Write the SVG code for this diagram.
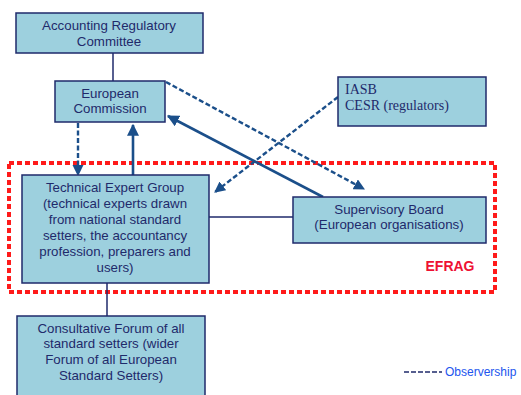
<svg xmlns="http://www.w3.org/2000/svg" width="521" height="395" viewBox="0 0 521 395">
<defs>
<style>
.box{fill:#9dd0de;stroke:#1f2a6b;stroke-width:1.5}
.t{font-family:"Liberation Sans",Arial,sans-serif;font-size:13.3px;fill:#1f2a6b;text-anchor:middle}
.s{font-family:"Liberation Serif","Times New Roman",serif;font-size:14px;fill:#1f2a6b}
.ln{stroke:#1f2a6b;stroke-width:1.5;fill:none}
.ar{stroke:#1b4f8a;stroke-width:2.6;fill:none}
.da{stroke:#1b4f8a;stroke-width:2.4;fill:none;stroke-dasharray:5 2.5}
</style>
<marker id="ah" viewBox="0 0 10 10" refX="9" refY="5" markerWidth="4.6" markerHeight="4.6" orient="auto" markerUnits="strokeWidth">
<path d="M0,0 L10,5 L0,10 z" fill="#1b4f8a"/>
</marker>
</defs>
<rect width="521" height="395" fill="#ffffff"/>
<rect x="9" y="163" width="486" height="129" fill="none" stroke="#ff1a1a" stroke-width="4" stroke-dasharray="5 3"/>
<text x="450" y="271" font-family="Liberation Sans,Arial,sans-serif" font-size="14" font-weight="bold" fill="#ee1133" text-anchor="middle">EFRAG</text>
<g id="connectors">
<line class="ln" x1="113" y1="53" x2="113" y2="81"/>
<line class="ln" x1="209" y1="217" x2="293" y2="217"/>
<line class="ln" x1="107" y1="283" x2="107" y2="316"/>
<line class="da" x1="78" y1="123" x2="78" y2="175" marker-end="url(#ah)"/>
<line class="ar" x1="133" y1="175" x2="133" y2="125" marker-end="url(#ah)"/>
<line class="ar" x1="323" y1="197" x2="168" y2="116" marker-end="url(#ah)"/>
<line class="da" x1="166" y1="82" x2="364" y2="189" marker-end="url(#ah)"/>
<line class="da" x1="338" y1="97" x2="215" y2="192" marker-end="url(#ah)"/>
</g>
<g id="arc">
<rect class="box" x="16" y="13" width="187" height="40"/>
<text class="t" x="109" y="30">Accounting Regulatory</text>
<text class="t" x="109" y="46">Committee</text>
</g>
<g id="ec">
<rect class="box" x="55" y="81" width="110" height="41"/>
<text class="t" x="110" y="98">European</text>
<text class="t" x="110" y="113">Commission</text>
</g>
<g id="iasb">
<rect class="box" x="338" y="77" width="148" height="49"/>
<text class="s" x="345" y="94">IASB</text>
<text class="s" x="345" y="110">CESR (regulators)</text>
</g>
<g id="teg">
<rect class="box" x="22" y="175" width="187" height="108"/>
<text class="t" x="115" y="192">Technical Expert Group</text>
<text class="t" x="115" y="208">(technical experts drawn</text>
<text class="t" x="115" y="224">from national standard</text>
<text class="t" x="115" y="240">setters, the accountancy</text>
<text class="t" x="115" y="256">profession, preparers and</text>
<text class="t" x="115" y="272">users)</text>
</g>
<g id="sb">
<rect class="box" x="293" y="197" width="193" height="46"/>
<text class="t" x="389" y="214">Supervisory Board</text>
<text class="t" x="389" y="229">(European organisations)</text>
</g>
<g id="cf">
<rect class="box" x="17" y="316" width="188" height="85"/>
<text class="t" x="111" y="333">Consultative Forum of all</text>
<text class="t" x="111" y="348">standard setters (wider</text>
<text class="t" x="111" y="364">Forum of all European</text>
<text class="t" x="111" y="380">Standard Setters)</text>
</g>
<g id="legend">
<line x1="404" y1="372" x2="442" y2="372" stroke="#1f2a6b" stroke-width="1.5" stroke-dasharray="5 2"/>
<text x="445" y="376" font-family="Liberation Sans,Arial,sans-serif" font-size="12" fill="#2255ee">Observership</text>
</g>
</svg>
